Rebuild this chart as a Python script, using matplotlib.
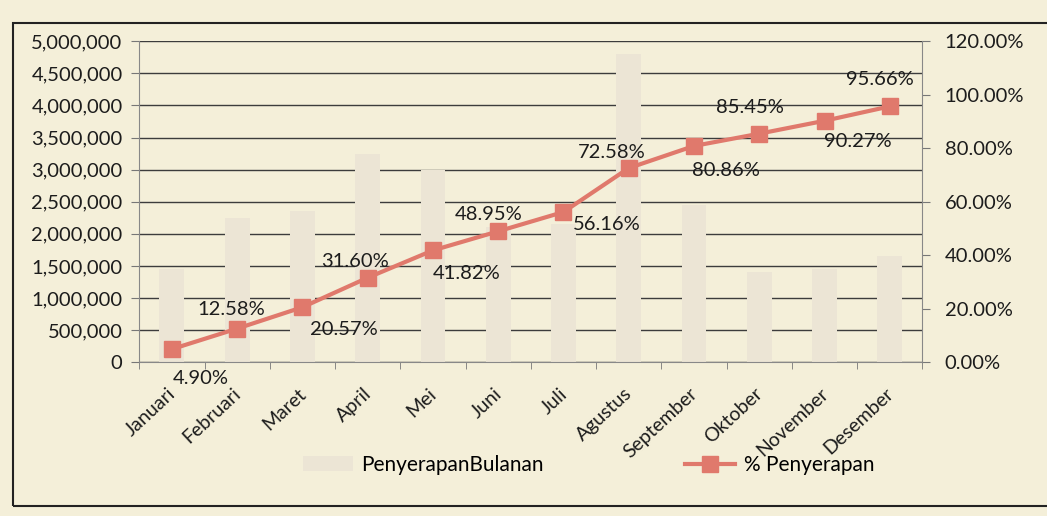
import matplotlib.pyplot as plt
from matplotlib.ticker import FuncFormatter, MultipleLocator

# Monthly absorption (bars, left axis) and cumulative % absorption (line, right axis)
months = ['Januari', 'Februari', 'Maret', 'April', 'Mei', 'Juni', 'Juli',
          'Agustus', 'September', 'Oktober', 'November', 'Desember']
penyerapan_bulanan = [1450000, 2250000, 2350000, 3250000, 3000000, 2100000,
                      2150000, 4800000, 2450000, 1400000, 1450000, 1650000]
persen_penyerapan = [4.90, 12.58, 20.57, 31.60, 41.82, 48.95,
                     56.16, 72.58, 80.86, 85.45, 90.27, 95.66]
label_texts = ['4.90%', '12.58%', '20.57%', '31.60%', '41.82%', '48.95%',
               '56.16%', '72.58%', '80.86%', '85.45%', '90.27%', '95.66%']

paper = '#f4efd9'
bar_color = '#ece5d5'
line_color = '#e0796c'
text_color = '#1c1c1c'
fs = 14.5

plt.rcParams['font.family'] = ['Lato', 'DejaVu Sans']

fig = plt.figure(figsize=(10.47, 5.16), dpi=100, facecolor=paper)
ax = fig.add_axes([0.133, 0.298, 0.748, 0.622])
ax.set_facecolor(paper)
x = list(range(len(months)))

ax.bar(x, penyerapan_bulanan, width=0.38, color=bar_color, zorder=1,
       label='PenyerapanBulanan')
ax.set_ylim(0, 5000000)
ax.set_xlim(-0.5, len(months) - 0.5)
ax.yaxis.set_major_locator(MultipleLocator(500000))
ax.yaxis.set_major_formatter(FuncFormatter(lambda v, p: f'{int(v):,}'))
ax.grid(axis='y', color='#3c3c3c', linewidth=1.0, zorder=0)
ax.set_axisbelow(True)
ax.set_xticks(x)
ax.set_xticklabels(months, rotation=43, ha='right', va='center_baseline',
                   rotation_mode='anchor', fontsize=14, color=text_color)
ax.set_xticks([i + 0.5 for i in range(-1, len(months))], minor=True)
ax.tick_params(axis='x', which='major', length=0, pad=20)
ax.tick_params(axis='x', which='minor', length=5, color='#777777')
ax.tick_params(axis='y', labelsize=fs, labelcolor=text_color, length=6,
               color='#777777', pad=6)
for s in ['top', 'right']:
    ax.spines[s].set_visible(False)
ax.spines['left'].set_color('#888888')
ax.spines['bottom'].set_color('#888888')

ax2 = ax.twinx()
ax2.plot(x, persen_penyerapan, color=line_color, linewidth=3, marker='s',
         markersize=11, zorder=3, label='% Penyerapan')
ax2.set_ylim(0, 120)
ax2.yaxis.set_major_locator(MultipleLocator(20))
ax2.yaxis.set_major_formatter(FuncFormatter(lambda v, p: f'{v:.2f}%'))
ax2.tick_params(axis='y', labelsize=fs, labelcolor=text_color, length=6,
                color='#777777', pad=10)
for s in ['top', 'left', 'bottom']:
    ax2.spines[s].set_visible(False)
ax2.spines['right'].set_color('#888888')

# Data labels alternate below / above the line
offsets = [(21, -21), (-4, 14), (30, -16), (-9, 12), (24, -17), (-7, 12),
           (31, -9), (-12, 11), (23, -18), (-7, 19), (24, -15), (-7, 19)]
for xi, yi, txt, off in zip(x, persen_penyerapan, label_texts, offsets):
    ax2.annotate(txt, (xi, yi), xytext=off, textcoords='offset points',
                 ha='center', va='center', fontsize=fs, color=text_color)

h1, l1 = ax.get_legend_handles_labels()
h2, l2 = ax2.get_legend_handles_labels()
fig.legend(h1 + h2, l1 + l2, loc='center', bbox_to_anchor=(0.562, 0.099),
           ncol=2, frameon=False, fontsize=15, columnspacing=6.8,
           handlelength=2.4, handletextpad=0.4)

# Outer chart frame
fig.add_artist(plt.Rectangle((0.012, 0.02), 1.2, 0.935,
                             transform=fig.transFigure, fill=False,
                             edgecolor='#222222', linewidth=1.5))

fig.savefig('out.png', dpi=100, facecolor=paper)
